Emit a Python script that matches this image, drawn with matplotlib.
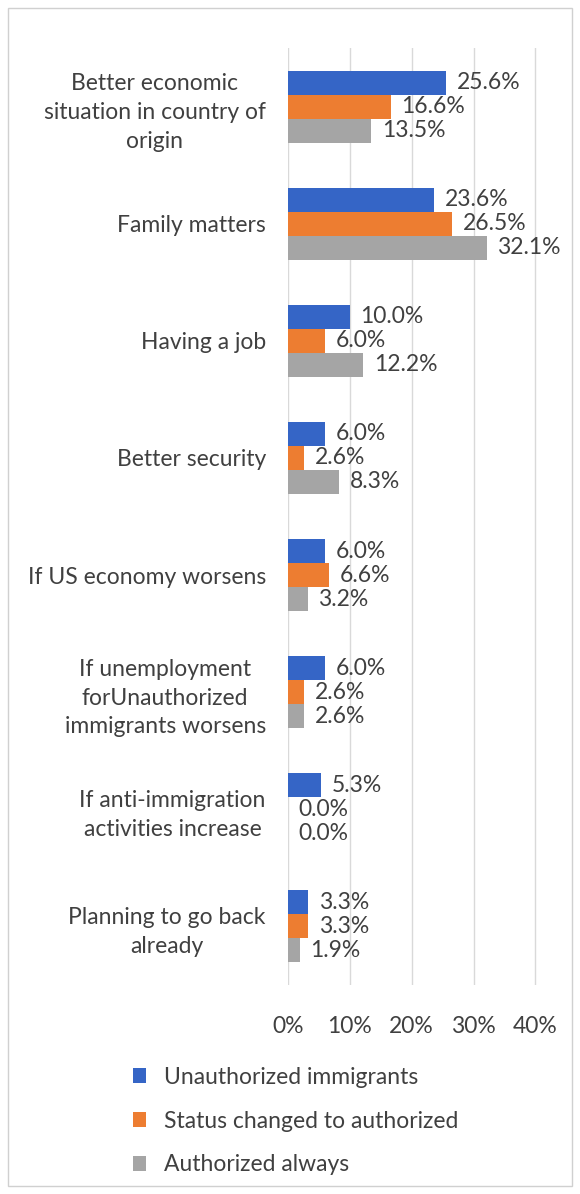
import numpy as np
import matplotlib.pyplot as plt
from matplotlib.patches import Rectangle

plt.rcParams['font.family'] = ['Lato', 'DejaVu Sans']

reasons = [
    "Better economic\nsituation in country of\norigin",
    "Family matters",
    "Having a job",
    "Better security",
    "If US economy worsens",
    "If unemployment\nforUnauthorized\nimmigrants worsens",
    "If anti-immigration\nactivities increase",
    "Planning to go back\nalready",
]
unauthorized = [25.6, 23.6, 10.0, 6.0, 6.0, 6.0, 5.3, 3.3]
status_changed = [16.6, 26.5, 6.0, 2.6, 6.6, 2.6, 0.0, 3.3]
authorized_always = [13.5, 32.1, 12.2, 8.3, 3.2, 2.6, 0.0, 1.9]

series = ["Unauthorized immigrants", "Status changed to authorized", "Authorized always"]
colors = ["#3565C6", "#ED7D31", "#A5A5A5"]
text_color = "#404040"
fs = 16.5

fig = plt.figure(figsize=(5.8, 11.94), dpi=100)
ax = fig.add_axes([288 / 580, 1 - 985 / 1194, (557 - 288) / 580, (985 - 48) / 1194])

y = np.arange(len(reasons))
h = 0.205
for k, (vals, col) in enumerate(zip([unauthorized, status_changed, authorized_always], colors)):
    pos = y + (k - 1) * h
    ax.barh(pos, vals, height=h, color=col, label=series[k], zorder=3)
    for p, v in zip(pos, vals):
        ax.text(v + 1.7, p, f"{v:.1f}%", va='center', ha='left',
                fontsize=fs, color=text_color, zorder=4)

ax.set_xlim(0, 43.5)
ax.set_ylim(len(reasons) - 0.5, -0.5)
ax.set_xticks([0, 10, 20, 30, 40])
ax.set_xticklabels([f"{t}%" for t in [0, 10, 20, 30, 40]])
ax.set_yticks(y)
ax.set_yticklabels(reasons, multialignment='center', linespacing=1.45)
ax.tick_params(axis='both', length=0, labelsize=fs, colors=text_color)
ax.tick_params(axis='y', pad=16)
ax.tick_params(axis='x', pad=22)
ax.grid(axis='x', color='#D9D9D9', linewidth=1, zorder=0)
for s in ax.spines.values():
    s.set_visible(False)

leg = fig.legend(loc='upper left', bbox_to_anchor=(112 / 580, 1 - 1046 / 1194),
                 frameon=False, fontsize=fs, handlelength=0.6, handleheight=0.6,
                 handletextpad=0.75, labelspacing=1.0)
for t in leg.get_texts():
    t.set_color(text_color)

fig.patches.append(Rectangle((8 / 580, 8 / 1194), 564 / 580, 1178 / 1194,
                             transform=fig.transFigure, fill=False,
                             edgecolor='#D0D0D0', linewidth=1))

fig.savefig("out.png", dpi=100, facecolor='white')
